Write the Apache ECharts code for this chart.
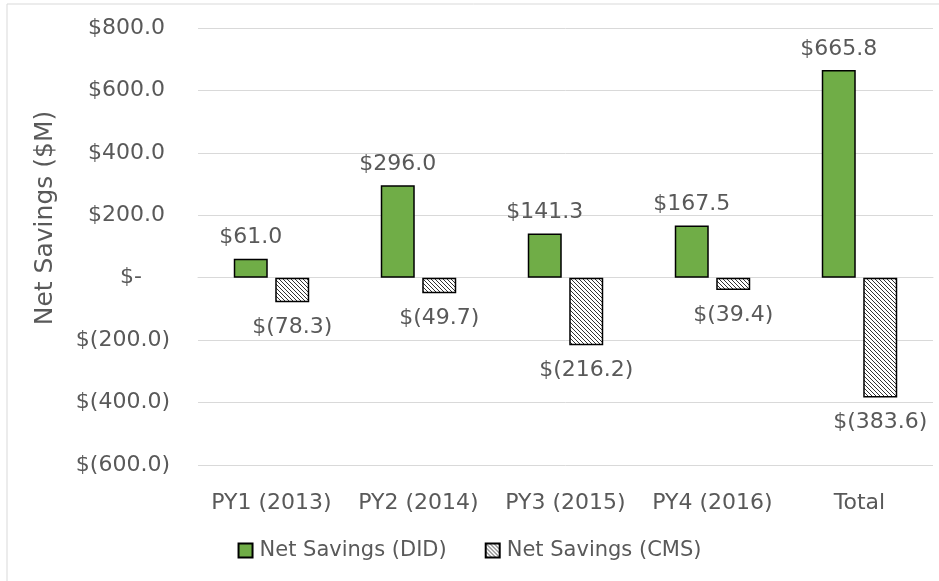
<!DOCTYPE html>
<html>
<head>
<meta charset="utf-8">
<script src="https://cdn.jsdelivr.net/npm/echarts@6/dist/echarts.min.js"></script>
<style>html,body{margin:0;padding:0;background:#fff;}#c{width:939px;height:581px;}</style>
</head>
<body>
<div id="c"></div>
<script>
var categories = ['PY1 (2013)', 'PY2 (2014)', 'PY3 (2015)', 'PY4 (2016)', 'Total'];
var didValues = [61.0, 296.0, 141.3, 167.5, 665.8];
var cmsValues = [-78.3, -49.7, -216.2, -39.4, -383.6];
var seriesNames = ['Net Savings (DID)', 'Net Savings (CMS)'];
var axisName = 'Net Savings ($M)';

function money(v) {
  if (v === 0) return '$-';
  if (v < 0) return '$(' + Math.abs(v).toFixed(1) + ')';
  return '$' + v.toFixed(1);
}

var pc = document.createElement('canvas');
pc.width = 4; pc.height = 4;
var ctx = pc.getContext('2d');
ctx.fillStyle = '#ffffff';
ctx.fillRect(0, 0, 4, 4);
ctx.strokeStyle = '#333333';
ctx.lineWidth = 1.0;
[-4, 0, 4].forEach(function (o) {
  ctx.beginPath(); ctx.moveTo(o, 0); ctx.lineTo(o + 4, 4); ctx.stroke();
});

var FONT = 'DejaVu Sans';
var TXT = '#595959';
var chart = echarts.init(document.getElementById('c'), null, {renderer: 'canvas'});
chart.setOption({
  animation: false,
  backgroundColor: '#ffffff',
  grid: {left: 198, right: 6, top: 28, bottom: 116, containLabel: false},
  graphic: [
    {type: 'rect', shape: {x: 7, y: 4, width: 960, height: 600}, style: {fill: 'none', stroke: '#d9d9d9', lineWidth: 1}},
    {type: 'text', x: 45, y: 218, rotation: Math.PI / 2,
     style: {text: axisName, font: '25px "DejaVu Sans"', fill: TXT, align: 'center', verticalAlign: 'middle'}}
  ],
  legend: {
    bottom: 15, left: 'center', icon: 'rect', itemWidth: 14, itemHeight: 14, itemGap: 38,
    textStyle: {fontFamily: FONT, fontSize: 21, color: TXT, padding: [0, 0, 0, 2]},
    data: seriesNames
  },
  xAxis: {
    type: 'category', data: categories,
    axisLine: {show: true, onZero: true, lineStyle: {color: '#d9d9d9', width: 1}},
    axisTick: {show: false},
    axisLabel: {interval: 0, fontFamily: FONT, fontSize: 22, color: TXT, margin: 27},
    splitLine: {show: false}
  },
  yAxis: {
    type: 'value', min: -600, max: 800, interval: 200,
    axisLine: {show: false}, axisTick: {show: false},
    splitLine: {show: true, lineStyle: {color: '#d9d9d9', width: 1}},
    axisLabel: {
      margin: 28,
      formatter: function (v) {
        if (v === 0) return '{z|$-}';
        if (v > 0) return '{p|' + money(v) + '}';
        return '{n|' + money(v) + '}';
      },
      rich: {
        p: {fontFamily: FONT, fontSize: 22, color: TXT, padding: [0, 5, 0, 0]},
        n: {fontFamily: FONT, fontSize: 22, color: TXT},
        z: {fontFamily: FONT, fontSize: 22, color: TXT, padding: [0, 28, 0, 0]}
      }
    }
  },
  series: [
    {
      name: seriesNames[0], type: 'bar', data: didValues,
      barWidth: 34, barGap: '22%',
      itemStyle: {color: '#70ad47', borderColor: '#000000', borderWidth: 1.5},
      label: {show: true, position: 'top', distance: 10, fontFamily: FONT, fontSize: 22, color: TXT,
              formatter: function (p) { return money(p.value); }}
    },
    {
      name: seriesNames[1], type: 'bar', data: cmsValues,
      barWidth: 34, barGap: '22%',
      itemStyle: {color: {image: pc, repeat: 'repeat'}, borderColor: '#000000', borderWidth: 1.5},
      label: {show: true, position: 'bottom', distance: 14, fontFamily: FONT, fontSize: 22, color: TXT,
              formatter: function (p) { return money(p.value); }}
    }
  ]
});
</script>
</body>
</html>
